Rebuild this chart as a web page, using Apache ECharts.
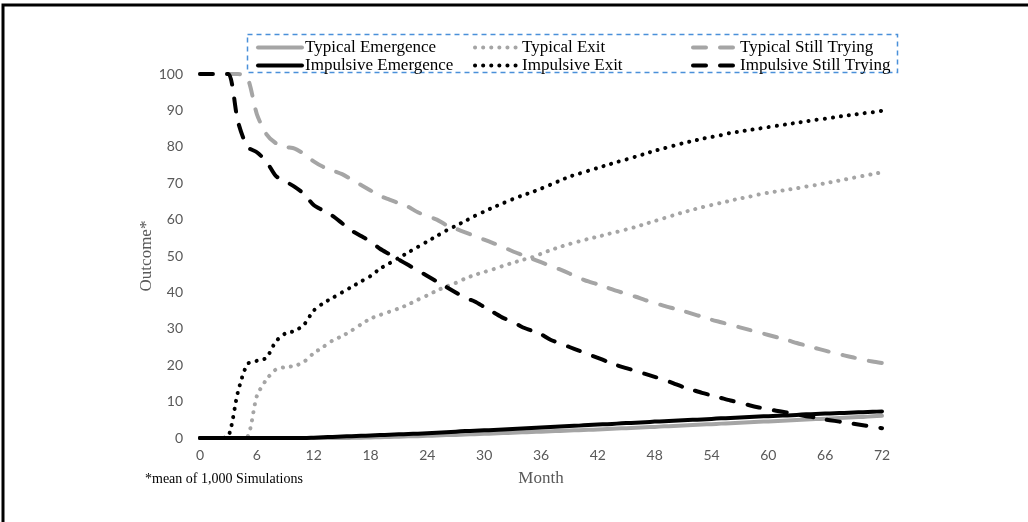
<!DOCTYPE html>
<html>
<head>
<meta charset="utf-8">
<script src="https://cdn.jsdelivr.net/npm/echarts@6/dist/echarts.min.js"></script>
<style>
  html, body { margin: 0; padding: 0; background: #fff; }
  #chart { width: 1028px; height: 522px; }
</style>
</head>
<body>
<div id="chart"></div>
<script>
// Month index 0..72 and mean outcomes (percent) per month
const months = Array.from({ length: 73 }, (_, i) => i);
const xTicks = [0, 6, 12, 18, 24, 30, 36, 42, 48, 54, 60, 66, 72];
const yTicks = [0, 10, 20, 30, 40, 50, 60, 70, 80, 90, 100];

const typicalEmergence = [
  0, 0, 0, 0, 0, 0, 0, 0, 0, 0, 0, 0, 0, 0, 0, 0,
  0.05, 0.1, 0.15, 0.2, 0.3, 0.35, 0.45, 0.5, 0.6, 0.7, 0.8, 0.85, 0.95, 1.05,
  1.15, 1.25, 1.35, 1.45, 1.55, 1.65, 1.75, 1.85, 1.95, 2.05, 2.15, 2.25, 2.35,
  2.45, 2.6, 2.7, 2.8, 2.95, 3.05, 3.2, 3.3, 3.45, 3.55, 3.7, 3.8, 3.95, 4.05,
  4.2, 4.3, 4.45, 4.55, 4.7, 4.8, 4.95, 5.05, 5.2, 5.3, 5.45, 5.55, 5.7, 5.8, 5.95, 6.1
];
const typicalExit = [
  0, 0, 0, 0, 0, 0.3, 11.5, 16, 18.8, 19.5, 19.8, 21, 23.3, 25, 26.8, 28, 29.5,
  31.2, 32.8, 33.8, 34.7, 35.6, 36.7, 38, 39.2, 40.5, 41.6, 42.6, 43.8, 44.8,
  45.6, 46.4, 47.3, 48.1, 48.9, 49.6, 50.6, 51.6, 52.5, 53.3, 54, 54.7, 55.3,
  56, 56.6, 57.3, 58, 58.8, 59.6, 60.4, 61.2, 62, 62.7, 63.4, 64, 64.6, 65.2,
  65.8, 66.3, 66.9, 67.4, 67.8, 68.2, 68.6, 69.1, 69.5, 70, 70.5, 71, 71.5, 72, 72.5, 73
];
const typicalStillTrying = [
  100, 100, 100, 100, 100, 99, 89, 83.5, 81, 80, 79.5, 78, 76, 74.5, 73.5, 72.5,
  71, 69.5, 68, 66.5, 65.5, 64.5, 63.5, 62, 61, 60, 58.5, 57.5, 56.5, 55.5, 54.5,
  53.5, 52.5, 51.3, 50.3, 49.3, 48.3, 47.3, 46.3, 45.2, 44, 43, 42.2, 41.3, 40.4,
  39.6, 38.8, 37.9, 37.1, 36.3, 35.6, 34.9, 34.1, 33.3, 32.5, 31.8, 31.1, 30.4,
  29.7, 29, 28.3, 27.6, 26.9, 26.1, 25.4, 24.7, 24, 23.3, 22.7, 22.1, 21.5, 21, 20.6
];
const impulsiveEmergence = [
  0, 0, 0, 0, 0, 0, 0, 0, 0, 0, 0, 0,
  0.1, 0.2, 0.3, 0.4, 0.5, 0.6, 0.7, 0.8, 0.9, 1.0, 1.1, 1.2, 1.3, 1.45, 1.6,
  1.75, 1.9, 2.0, 2.1, 2.2, 2.35, 2.5, 2.6, 2.75, 2.9, 3.0, 3.15, 3.3, 3.4, 3.55,
  3.7, 3.8, 3.95, 4.1, 4.2, 4.35, 4.5, 4.6, 4.75, 4.9, 5.0, 5.1, 5.25, 5.4, 5.5,
  5.6, 5.75, 5.9, 6.0, 6.1, 6.2, 6.35, 6.5, 6.6, 6.7, 6.8, 6.9, 7.0, 7.1, 7.2, 7.3
];
const impulsiveExit = [
  0, 0, 0, 0.5, 12.6, 20.3, 21.2, 22, 26.5, 28.7, 29.4, 31.2, 35, 37, 38.5, 40,
  41.5, 43, 44.5, 46.5, 48, 49.5, 51, 52.5, 54, 55.5, 57, 58.3, 59.6, 61, 62.2,
  63.4, 64.5, 65.6, 66.6, 67.5, 68.5, 69.6, 70.7, 71.8, 72.6, 73.4, 74.2, 75,
  75.8, 76.5, 77.3, 78.1, 78.9, 79.6, 80.3, 81, 81.6, 82.2, 82.7, 83.2, 83.8,
  84.2, 84.6, 85, 85.4, 85.8, 86.2, 86.6, 87, 87.4, 87.7, 88.1, 88.5, 88.8, 89.2, 89.5, 89.9
];
const impulsiveStillTrying = [
  100, 100, 100, 100, 87, 80, 78.5, 76, 72, 70.5, 69, 67, 64, 62.5, 61, 59, 57,
  55.5, 54, 52, 50.5, 49, 47.5, 46, 44.5, 43, 41.5, 40, 38.5, 37.5, 36, 34.5, 33,
  32, 30.5, 29.5, 28.5, 27, 26, 25, 24, 23, 22, 21, 20, 19.2, 18.4, 17.6, 16.8,
  16, 15, 14, 13.2, 12.4, 11.7, 11, 10.3, 9.7, 9, 8.4, 7.9, 7.4, 7, 6.5, 6, 5.6,
  5.1, 4.7, 4.3, 3.9, 3.5, 3.1, 2.7
];

const GRAY = '#a5a5a5';
const BLACK = '#000000';
const SERIF = '"Liberation Serif", "Times New Roman", serif';
const SANS = 'Lato, "Open Sans", sans-serif';

const DASH = [13, 14];
const DOT = [0.1, 8];

function pairs(values) {
  return months.map((m, i) => [m, values[i]]);
}

function lineSeries(name, values, color, width, type) {
  return {
    name: name,
    type: 'line',
    data: pairs(values),
    smooth: 0.25,
    symbol: 'circle',
    showSymbol: false,
    silent: true,
    lineStyle: { color: color, width: width, type: type, cap: 'round', join: 'round' },
    itemStyle: { color: color },
    emphasis: { disabled: true }
  };
}

function columnLegend(left, names) {
  return {
    orient: 'vertical',
    left: left,
    top: 34,
    itemWidth: 44,
    itemHeight: 14,
    itemGap: 1,
    data: names,
    selectedMode: false,
    itemStyle: { opacity: 0 },
    lineStyle: { width: 4, cap: 'round' },
    textStyle: { fontFamily: SERIF, fontSize: 17, lineHeight: 16, color: '#000', padding: [0, 0, 0, -2] }
  };
}

const chart = echarts.init(document.getElementById('chart'), null, { renderer: 'canvas' });

chart.setOption({
  animation: false,
  backgroundColor: '#ffffff',
  grid: { left: 200, right: 146, top: 74, bottom: 84, containLabel: false },
  legend: [
    columnLegend(251, ['Typical Emergence', 'Impulsive Emergence']),
    columnLegend(468, ['Typical Exit', 'Impulsive Exit']),
    columnLegend(686, ['Typical Still Trying', 'Impulsive Still Trying'])
  ],
  xAxis: {
    type: 'value',
    min: xTicks[0],
    max: xTicks[xTicks.length - 1],
    interval: 6,
    name: 'Month',
    nameLocation: 'middle',
    nameGap: 32,
    nameTextStyle: { fontFamily: SERIF, fontSize: 17, color: '#595959' },
    axisLine: { show: false },
    axisTick: { show: false },
    splitLine: { show: false },
    axisLabel: { fontFamily: SANS, fontSize: 14, color: '#595959', margin: 10 }
  },
  yAxis: {
    type: 'value',
    min: yTicks[0],
    max: yTicks[yTicks.length - 1],
    interval: 10,
    axisLine: { show: false },
    axisTick: { show: false },
    splitLine: { show: false },
    axisLabel: { fontFamily: SANS, fontSize: 14, color: '#595959', margin: 17 }
  },
  series: [
    lineSeries('Typical Emergence', typicalEmergence, GRAY, 4, 'solid'),
    lineSeries('Typical Exit', typicalExit, GRAY, 4, DOT),
    lineSeries('Typical Still Trying', typicalStillTrying, GRAY, 4, DASH),
    lineSeries('Impulsive Emergence', impulsiveEmergence, BLACK, 4, 'solid'),
    lineSeries('Impulsive Exit', impulsiveExit, BLACK, 4, DOT),
    lineSeries('Impulsive Still Trying', impulsiveStillTrying, BLACK, 4, DASH)
  ],
  graphic: [
    // frame along the top and left edges
    {
      type: 'polyline',
      silent: true,
      shape: { points: [[3, 522], [3, 5], [1028, 5]] },
      style: { stroke: '#000', lineWidth: 3, fill: null }
    },
    // dashed box round the legend
    {
      type: 'rect',
      silent: true,
      shape: { x: 247.5, y: 34.5, width: 650, height: 38 },
      style: { stroke: '#4a90d9', lineWidth: 1.5, lineDash: [5, 4], fill: null }
    },
    // vertical axis title
    {
      type: 'text',
      silent: true,
      x: 147,
      y: 256,
      rotation: Math.PI / 2,
      style: {
        text: 'Outcome*',
        font: '17px ' + SERIF,
        fill: '#595959',
        align: 'center',
        verticalAlign: 'middle'
      }
    },
    {
      type: 'text',
      silent: true,
      left: 145,
      top: 472,
      style: { text: '*mean of 1,000 Simulations', font: '14px ' + SERIF, fill: '#000' }
    }
  ]
});
</script>
</body>
</html>
